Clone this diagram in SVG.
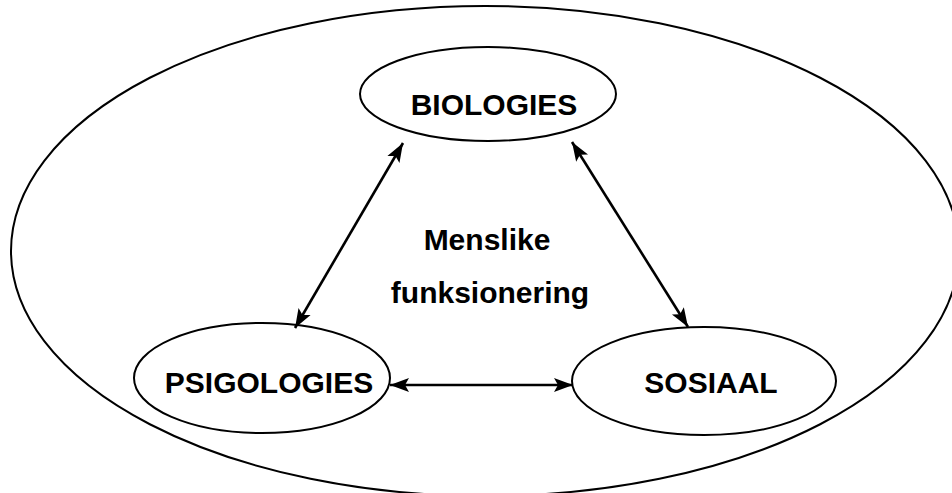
<svg xmlns="http://www.w3.org/2000/svg" width="952" height="493" viewBox="0 0 952 493">
<style>
.shape{fill:none;stroke:#000;stroke-width:2}
.lbl{font-family:"Liberation Sans",Arial,sans-serif;font-weight:bold;font-size:30px;fill:#000;text-anchor:middle}
.conn{stroke:#000;stroke-width:2.6;fill:none}
</style>
<defs>
<marker id="ah" markerUnits="userSpaceOnUse" markerWidth="20" markerHeight="16" refX="19" refY="8" orient="auto-start-reverse" viewBox="0 0 20 16">
<path d="M0,1 L19,8 L0,15 L4,8 Z" fill="#000"/>
</marker>
</defs>
<rect width="952" height="493" fill="#fff"/>
<g id="outer">
<ellipse class="shape" cx="485" cy="251" rx="474" ry="245"/>
</g>
<g id="center-label">
<text class="lbl" x="487" y="250">Menslike</text>
<text class="lbl" x="490" y="303">funksionering</text>
</g>
<g id="biologies">
<ellipse class="shape" cx="488" cy="94" rx="128" ry="47"/>
<text class="lbl" x="494" y="115">BIOLOGIES</text>
</g>
<g id="psigologies">
<ellipse class="shape" cx="262" cy="378" rx="128" ry="55"/>
<text class="lbl" x="269" y="393">PSIGOLOGIES</text>
</g>
<g id="sosiaal">
<ellipse class="shape" cx="704" cy="381" rx="132" ry="54"/>
<text class="lbl" x="711" y="393">SOSIAAL</text>
</g>
<g id="connectors">
<line class="conn" x1="295" y1="328" x2="403" y2="143" marker-start="url(#ah)" marker-end="url(#ah)"/>
<line class="conn" x1="572" y1="142" x2="688" y2="327" marker-start="url(#ah)" marker-end="url(#ah)"/>
<line class="conn" x1="390" y1="385" x2="573" y2="385" marker-start="url(#ah)" marker-end="url(#ah)"/>
</g>
</svg>
